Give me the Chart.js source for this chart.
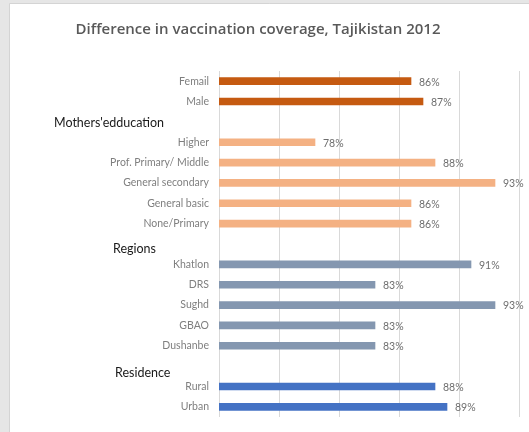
<!DOCTYPE html>
<html>
<head>
<meta charset="utf-8">
<script src="https://cdn.jsdelivr.net/npm/chart.js@4"></script>
<style>
  html, body { margin: 0; padding: 0; background: #e6e6e6; }
  #wrap { width: 529px; height: 432px; position: relative; }
</style>
</head>
<body>
<div id="wrap"><canvas id="chart"></canvas></div>
<script>
// 各分组的类别与接种率 (%)
const sexLabels = ['Femail', 'Male'];
const sexValues = [86, 87];

const eduLabels = ['Higher', 'Prof. Primary/ Middle', 'General secondary', 'General basic', 'None/Primary'];
const eduValues = [78, 88, 93, 86, 86];

const regionLabels = ['Khatlon', 'DRS', 'Sughd', 'GBAO', 'Dushanbe'];
const regionValues = [91, 83, 93, 83, 83];

const residenceLabels = ['Rural', 'Urban'];
const residenceValues = [88, 89];

const groupTitles = ['', "Mothers'edducation", 'Regions', 'Residence'];
const axisTicks = [70, 75, 80, 85, 90, 95];

// 样式
const groupColors = ['#c55a11', '#f4b183', '#8497b0', '#4472c4'];
const groupTitleX = [0, 54, 113, 115];
const groupTitleShift = [0, 1, 5, 7];

// 组装成一行一个类别，分组之间插入空行放组标题
const groups = [
    [sexLabels, sexValues],
    [eduLabels, eduValues],
    [regionLabels, regionValues],
    [residenceLabels, residenceValues]
];
const labels = [];
const values = [];
const colors = [];
const titleRows = [];
groups.forEach(([lbls, vals], g) => {
    if (groupTitles[g]) {
        titleRows.push({ index: labels.length, group: g });
        labels.push('');
        values.push(null);
        colors.push('transparent');
    }
    lbls.forEach((l, i) => {
        labels.push(l);
        values.push(vals[i]);
        colors.push(groupColors[g]);
    });
});

// 背景面板、标题、组标题、数值标签
const decorPlugin = {
    id: 'decor',
    beforeDraw(chart) {
        const ctx = chart.ctx;
        ctx.save();
        ctx.fillStyle = '#e6e6e6';
        ctx.fillRect(0, 0, chart.width, chart.height);
        ctx.fillStyle = '#ffffff';
        ctx.fillRect(10, 4, chart.width - 10, chart.height - 4);
        ctx.strokeStyle = '#d4d4d4';
        ctx.lineWidth = 1;
        ctx.beginPath();
        ctx.moveTo(9.5, chart.height);
        ctx.lineTo(9.5, 3.5);
        ctx.lineTo(chart.width, 3.5);
        ctx.stroke();
        ctx.restore();
    },
    afterDraw(chart) {
        const ctx = chart.ctx;
        const y = chart.scales.y;
        ctx.save();
        ctx.fillStyle = '#595959';
        ctx.font = '600 15px "Open Sans"';
        ctx.textAlign = 'center';
        ctx.textBaseline = 'middle';
        ctx.fillText('Difference in vaccination coverage, Tajikistan 2012', 258, 30);

        ctx.fillStyle = '#1a1a1a';
        ctx.font = '12.5px Lato';
        ctx.textAlign = 'left';
        titleRows.forEach(r => {
            ctx.fillText(groupTitles[r.group], groupTitleX[r.group],
                y.getPixelForValue(r.index) + groupTitleShift[r.group]);
        });

        ctx.fillStyle = '#6e6e6e';
        ctx.font = '10.5px Lato';
        const meta = chart.getDatasetMeta(0);
        meta.data.forEach((bar, i) => {
            if (values[i] == null) return;
            ctx.fillText(values[i] + '%', bar.x + 8, bar.y + 1);
        });
        ctx.restore();
    }
};

new Chart(document.getElementById('chart'), {
    type: 'bar',
    data: {
        labels: labels,
        datasets: [{
            data: values,
            backgroundColor: colors,
            barThickness: 7,
            borderWidth: 0
        }]
    },
    options: {
        indexAxis: 'y',
        responsive: true,
        maintainAspectRatio: false,
        animation: false,
        layout: { padding: { top: 71, bottom: 15, right: 10, left: 10 } },
        plugins: {
            legend: { display: false },
            tooltip: { enabled: false }
        },
        scales: {
            x: {
                min: axisTicks[0],
                max: axisTicks[axisTicks.length - 1],
                afterBuildTicks(scale) {
                    scale.ticks = axisTicks.map(v => ({ value: v }));
                },
                ticks: { display: false },
                grid: { color: '#d9d9d9', drawTicks: false },
                border: { display: false }
            },
            y: {
                afterFit(scale) { scale.width = 209; },
                grid: { display: false },
                border: { display: false },
                ticks: {
                    color: '#7f7f7f',
                    font: { family: 'Lato', size: 10.5 },
                    padding: 2,
                    autoSkip: false
                }
            }
        }
    },
    plugins: [decorPlugin]
});
</script>
</body>
</html>
